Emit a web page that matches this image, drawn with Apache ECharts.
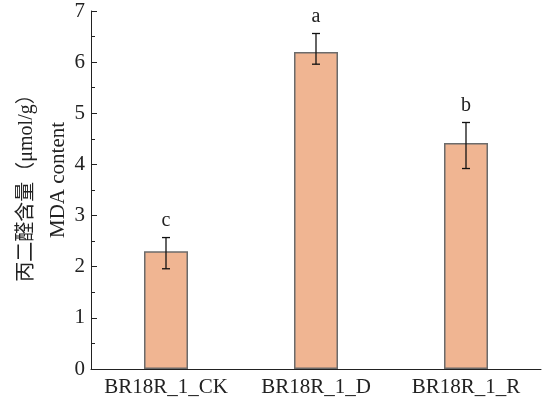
<!DOCTYPE html>
<html>
<head>
<meta charset="utf-8">
<script src="https://cdn.jsdelivr.net/npm/echarts@6/dist/echarts.min.js"></script>
<style>html,body{margin:0;padding:0;background:#fff;}#c{width:543px;height:401px;}</style>
</head>
<body>
<div id="c"></div>
<script>
const categories = ['BR18R_1_CK', 'BR18R_1_D', 'BR18R_1_R'];
const values = [2.3, 6.2, 4.42];
const errLow = [1.96, 5.96, 3.92];
const errHigh = [2.57, 6.56, 4.82];
const letters = ['c', 'a', 'b'];
const yTicks = [0, 1, 2, 3, 4, 5, 6, 7];
const titleLine1 = '丙二醛含量（μmol/g）';
const titleLine2 = 'MDA content';

const serif = "'Liberation Serif', 'Times New Roman', 'Noto Sans CJK SC', serif";
const chart = echarts.init(document.getElementById('c'));
const errData = categories.map((c, i) => [i, errLow[i], errHigh[i], letters[i]]);

chart.setOption({
  animation: false,
  grid: { left: 91, right: 2, top: 11, bottom: 32 },
  xAxis: {
    type: 'category',
    data: categories,
    axisLine: { lineStyle: { color: '#222', width: 1 } },
    axisTick: { inside: true, length: 6, lineStyle: { color: '#222' } },
    axisLabel: { interval: 0, fontFamily: serif, fontSize: 21, color: '#222', margin: 8 }
  },
  yAxis: {
    type: 'value',
    min: yTicks[0],
    max: yTicks[yTicks.length - 1],
    interval: 1,
    axisLine: { show: true, lineStyle: { color: '#222', width: 1 } },
    axisTick: { show: true, inside: true, length: 6, lineStyle: { color: '#222' } },
    minorTick: { show: true, splitNumber: 2, length: 4, lineStyle: { color: '#222' } },
    splitLine: { show: false },
    axisLabel: { fontFamily: serif, fontSize: 21, color: '#222', margin: 6 }
  },
  graphic: [
    { type: 'text', x: 27, y: 183, rotation: Math.PI / 2,
      style: { text: titleLine1, font: "20px " + serif, fill: '#222', align: 'center', verticalAlign: 'middle' } },
    { type: 'text', x: 58, y: 180, rotation: Math.PI / 2,
      style: { text: titleLine2, font: "21px " + serif, fill: '#222', align: 'center', verticalAlign: 'middle' } }
  ],
  series: [
    {
      type: 'bar',
      data: values,
      barWidth: 44,
      itemStyle: { color: '#F0B592', borderColor: '#6b6b6b', borderWidth: 1.5 }
    },
    {
      type: 'custom',
      data: errData,
      z: 10,
      renderItem: function (params, api) {
        const x = api.value(0);
        const lo = api.coord([x, api.value(1)]);
        const hi = api.coord([x, api.value(2)]);
        const hw = 4;
        const st = { stroke: '#111', lineWidth: 1.3 };
        return {
          type: 'group',
          children: [
            { type: 'line', shape: { x1: hi[0], y1: hi[1], x2: lo[0], y2: lo[1] }, style: st },
            { type: 'line', shape: { x1: hi[0] - hw, y1: hi[1], x2: hi[0] + hw, y2: hi[1] }, style: st },
            { type: 'line', shape: { x1: lo[0] - hw, y1: lo[1], x2: lo[0] + hw, y2: lo[1] }, style: st },
            { type: 'text', x: hi[0], y: hi[1] - 7,
              style: { text: api.value(3), font: '20px ' + serif, fill: '#222', align: 'center', verticalAlign: 'bottom' } }
          ]
        };
      }
    }
  ]
});
</script>
</body>
</html>
